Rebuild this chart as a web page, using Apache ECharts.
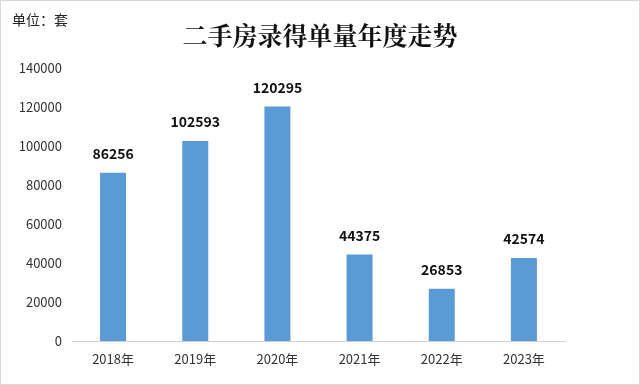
<!DOCTYPE html>
<html><head><meta charset="utf-8">
<script src="https://cdn.jsdelivr.net/npm/echarts@6/dist/echarts.min.js"></script>
<style>html,body{margin:0;padding:0;background:#fff}#c{width:640px;height:385px;box-sizing:border-box;border:1px solid #d9d9d9}</style>
</head><body><div id="c"></div>
<script>
const categories = ['2018年','2019年','2020年','2021年','2022年','2023年'];
const values = [86256, 102593, 120295, 44375, 26853, 42574];
const chart = echarts.init(document.getElementById('c'));
chart.setOption({
  animation: false,
  title: [
    {text: '二手房录得单量年度走势', left: 'center', top: 17,
     textStyle: {fontFamily: 'Noto Serif CJK SC, serif', fontWeight: 'bold', fontSize: 25, color: '#111'}},
    {text: '单位：套', left: 6, top: 7,
     textStyle: {fontFamily: 'Noto Sans CJK SC', fontWeight: 'normal', fontSize: 14, color: '#222'}}
  ],
  grid: {left: 71, right: 74, top: 67, bottom: 43},
  xAxis: {
    type: 'category', data: categories,
    axisLine: {lineStyle: {color: '#d0d0d0'}},
    axisTick: {show: false},
    axisLabel: {color: '#333', fontSize: 13, margin: 12, fontFamily: 'Noto Sans CJK SC'}
  },
  yAxis: {
    type: 'value', min: 0, max: 140000, interval: 20000,
    axisLine: {show: false}, axisTick: {show: false},
    splitLine: {show: false},
    axisLabel: {color: '#333', fontSize: 13, margin: 10, fontFamily: 'Noto Sans CJK SC', formatter: v => String(v)}
  },
  series: [{
    type: 'bar', data: values, barWidth: 26,
    itemStyle: {color: '#5b9bd5'},
    label: {show: true, position: 'top', distance: 12, color: '#111', fontWeight: 'bold', fontSize: 14, fontFamily: 'Noto Sans CJK SC'}
  }]
});
</script></body></html>
